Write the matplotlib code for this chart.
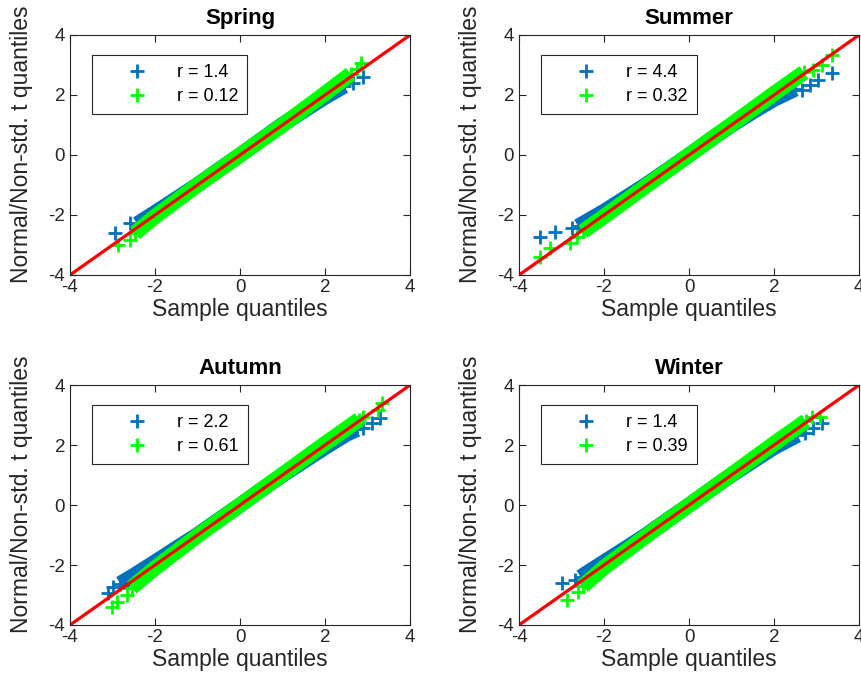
import matplotlib
matplotlib.use('Agg')
import matplotlib.pyplot as plt

plt.rcParams['font.family'] = ['Liberation Sans', 'DejaVu Sans']
plt.rcParams['axes.unicode_minus'] = False

# 계절별 이름과 legend 값
seasons = ['Spring', 'Summer', 'Autumn', 'Winter']
r_normal = [1.4, 4.4, 2.2, 1.4]
r_t = [0.12, 0.32, 0.61, 0.39]

# Normal (파랑) - band 부분
spring_norm_x = [-2.42, -2.0, -1.5, -1.0, -0.5, 0.0, 0.5, 1.0, 1.5, 2.0, 2.45]
spring_norm_y = [-2.3, -1.92, -1.46, -0.99, -0.49, 0.0, 0.51, 1.02, 1.48, 1.93, 2.3]
summer_norm_x = [-2.61, -2.0, -1.5, -1.0, -0.5, 0.0, 0.5, 1.0, 1.5, 2.0, 2.5]
summer_norm_y = [-2.38, -1.88, -1.43, -0.98, -0.49, 0.0, 0.51, 1.0, 1.44, 1.86, 2.2]
autumn_norm_x = [-2.82, -2.5, -2.0, -1.5, -1.0, -0.5, 0.0, 0.5, 1.0, 1.5, 2.0, 2.5, 2.75]
autumn_norm_y = [-2.62, -2.35, -1.9, -1.44, -0.99, -0.49, 0.0, 0.51, 1.0, 1.46, 1.92, 2.36, 2.52]
winter_norm_x = [-2.55, -2.0, -1.5, -1.0, -0.5, 0.0, 0.5, 1.0, 1.5, 2.0, 2.55]
winter_norm_y = [-2.4, -1.9, -1.45, -0.99, -0.49, 0.0, 0.51, 1.0, 1.46, 1.92, 2.33]

# Normal (파랑) - 꼬리 점
spring_norm_tx = [-2.94, -2.59, 2.66, 2.89]
spring_norm_ty = [-2.6, -2.27, 2.4, 2.6]
summer_norm_tx = [-3.51, -3.15, -2.75, 2.66, 2.85, 3.04, 3.36]
summer_norm_ty = [-2.73, -2.57, -2.43, 2.17, 2.33, 2.5, 2.73]
autumn_norm_tx = [-3.11, -2.99, 2.89, 3.1, 3.29]
autumn_norm_ty = [-2.93, -2.73, 2.57, 2.73, 2.9]
winter_norm_tx = [-2.99, -2.68, 2.73, 2.92, 3.13]
winter_norm_ty = [-2.6, -2.5, 2.4, 2.57, 2.73]

# Non-std. t (초록) - band 부분
spring_t_x = [-2.47, -2.0, -1.0, 0.0, 1.0, 2.0, 2.6]
spring_t_y = [-2.6, -2.05, -1.0, 0.0, 1.0, 2.05, 2.7]
summer_t_x = [-2.5, -2.0, -1.0, 0.0, 1.0, 2.0, 2.7]
summer_t_y = [-2.55, -2.05, -1.02, 0.0, 1.02, 2.05, 2.75]
autumn_t_x = [-2.55, -2.0, -1.0, 0.0, 1.0, 2.0, 2.8]
autumn_t_y = [-2.75, -2.1, -1.02, 0.0, 1.02, 2.05, 2.85]
winter_t_x = [-2.5, -2.0, -1.0, 0.0, 1.0, 2.0, 2.75]
winter_t_y = [-2.7, -2.08, -1.02, 0.0, 1.02, 2.05, 2.8]

# Non-std. t (초록) - 꼬리 점
spring_t_tx = [-2.87, -2.59, 2.75, 2.85]
spring_t_ty = [-3.0, -2.83, 2.85, 3.05]
summer_t_tx = [-3.51, -3.27, -2.8, -2.64, 2.92, 3.13, 3.36]
summer_t_ty = [-3.4, -3.1, -2.93, -2.73, 2.83, 3.0, 3.33]
autumn_t_tx = [-3.01, -2.89, -2.66, 2.89, 3.25, 3.34]
autumn_t_ty = [-3.4, -3.23, -3.0, 2.93, 3.17, 3.4]
winter_t_tx = [-2.87, -2.61, 2.9, 3.08]
winter_t_ty = [-3.17, -2.9, 2.95, 2.93]

norm_band = [(spring_norm_x, spring_norm_y), (summer_norm_x, summer_norm_y),
             (autumn_norm_x, autumn_norm_y), (winter_norm_x, winter_norm_y)]
norm_tail = [(spring_norm_tx, spring_norm_ty), (summer_norm_tx, summer_norm_ty),
             (autumn_norm_tx, autumn_norm_ty), (winter_norm_tx, winter_norm_ty)]
t_band = [(spring_t_x, spring_t_y), (summer_t_x, summer_t_y),
          (autumn_t_x, autumn_t_y), (winter_t_x, winter_t_y)]
t_tail = [(spring_t_tx, spring_t_ty), (summer_t_tx, summer_t_ty),
          (autumn_t_tx, autumn_t_ty), (winter_t_tx, winter_t_ty)]

blue = '#0072BD'
green = '#00FF00'

fig = plt.figure(figsize=(8.61, 6.97), dpi=100)

# 축 위치 (left, bottom)
positions = [(0.0813, 0.6055), (0.6028, 0.6055), (0.0813, 0.1033), (0.6028, 0.1033)]
w, h = 0.395, 0.3443

for i, season in enumerate(seasons):
    ax = fig.add_axes([positions[i][0], positions[i][1], w, h])

    bx, by = norm_band[i]
    tx, ty = norm_tail[i]
    ax.plot(bx, by, color=blue, lw=11, solid_capstyle='butt', solid_joinstyle='round')
    ax.plot(bx + tx, by + ty, '+', color=blue, ms=10, mew=2, label='r = %g' % r_normal[i])

    gx, gy = t_band[i]
    ux, uy = t_tail[i]
    ax.plot(gx, gy, color=green, lw=11, solid_capstyle='butt', solid_joinstyle='round')
    ax.plot(gx + ux, gy + uy, '+', color=green, ms=10, mew=2, label='r = %g' % r_t[i])

    # 기준선 y = x
    ax.plot([-4, 4], [-4, 4], color='red', lw=2.3)

    ax.set_xlim(-4, 4)
    ax.set_ylim(-4, 4)
    ax.set_xticks([-4, -2, 0, 2, 4])
    ax.set_yticks([-4, -2, 0, 2, 4])
    ax.tick_params(direction='in', top=True, right=True, length=5,
                   labelsize=13.5, colors='#262626', width=0.8)
    ax.tick_params(axis='x', pad=3)
    for sp in ax.spines.values():
        sp.set_color('#262626')
        sp.set_linewidth(0.8)

    ax.set_title(season, fontsize=16, fontweight='bold', pad=8)
    ax.set_xlabel('Sample quantiles', fontsize=16.5, color='#262626', labelpad=1)
    ax.set_ylabel('Normal/Non-std. t quantiles', fontsize=16.5, color='#262626', labelpad=11)
    ax.yaxis.label.set_y(0.546)

    leg = ax.legend(loc='upper left', bbox_to_anchor=(0.065, 0.917), borderaxespad=0,
                    fontsize=13, fancybox=False, framealpha=1, edgecolor='#262626',
                    handlelength=4.0, handletextpad=0.2, borderpad=0.5, labelspacing=0.4)
    leg.get_frame().set_linewidth(0.8)

fig.savefig('out.png', dpi=100)
